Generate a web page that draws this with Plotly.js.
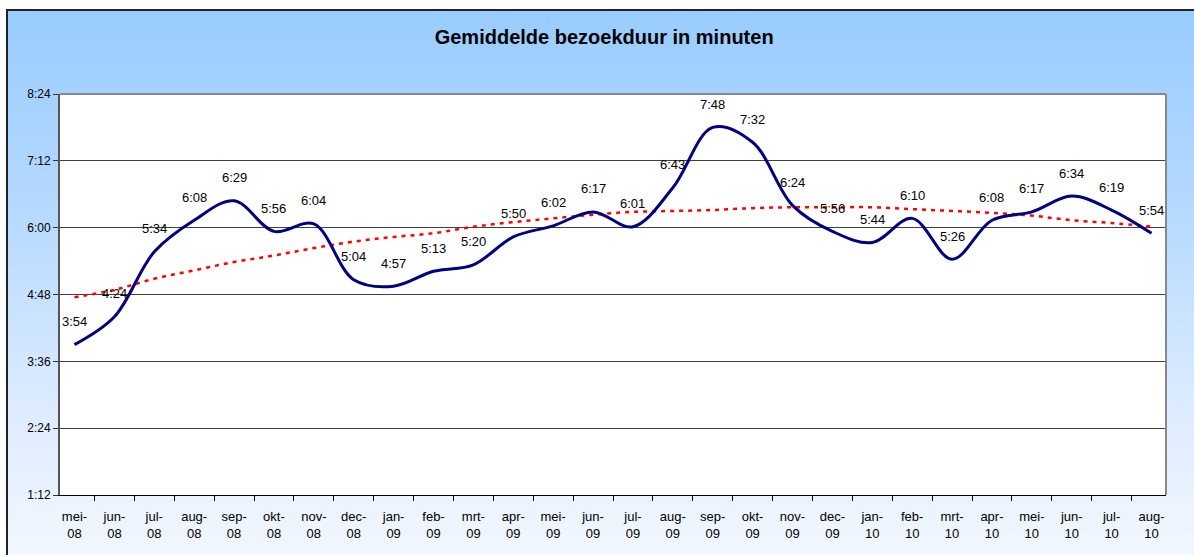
<!DOCTYPE html>
<html>
<head>
<meta charset="utf-8">
<script src="https://cdn.plot.ly/plotly-3.0.1.min.js"></script>
<style>
  html, body { margin: 0; padding: 0; width: 1194px; height: 555px; overflow: hidden; background: #ffffff; }
  #frame {
    position: absolute; left: 6px; top: 9px; width: 1200px; height: 560px;
    border-top: 2px solid #222; border-left: 2px solid #222;
    background: linear-gradient(to bottom, #99CCFF 0%, #B5D9FF 35%, #DCEBFF 70%, #F4F9FF 100%);
  }
  #chart { position: absolute; left: 0; top: 0; width: 1194px; height: 555px; }
</style>
</head>
<body>
<div id="frame"></div>
<div id="chart"></div>
<script>
// Categories (month-year)
const months = ["mei-<br>08","jun-<br>08","jul-<br>08","aug-<br>08","sep-<br>08","okt-<br>08","nov-<br>08","dec-<br>08",
                "jan-<br>09","feb-<br>09","mrt-<br>09","apr-<br>09","mei-<br>09","jun-<br>09","jul-<br>09","aug-<br>09",
                "sep-<br>09","okt-<br>09","nov-<br>09","dec-<br>09","jan-<br>10","feb-<br>10","mrt-<br>10","apr-<br>10",
                "mei-<br>10","jun-<br>10","jul-<br>10","aug-<br>10"];
// Average visit duration (m:ss)
const durationLabels = ["3:54","4:24","5:34","6:08","6:29","5:56","6:04","5:04",
                        "4:57","5:13","5:20","5:50","6:02","6:17","6:01","6:43",
                        "7:48","7:32","6:24","5:56","5:44","6:10","5:26","6:08",
                        "6:17","6:34","6:19","5:54"];
// Trend line (seconds)
const trendSeconds = [285,293,305,314,323,330,338,345,350,354,361,366,370,374,377,378,
                      379,381,382,382,382,380,378,376,373,368,365,361];
// Y axis ticks (seconds) and their labels
const yTickVals = [72,144,216,288,360,432,504];
const yTickText = ["1:12","2:24","3:36","4:48","6:00","7:12","8:24"];

function toSec(s){ const p = s.split(":"); return (+p[0])*60 + (+p[1]); }
const durationSeconds = durationLabels.map(toSec);

const font = "Arial, 'Liberation Sans', sans-serif";

const traces = [
  {
    x: months, y: trendSeconds, type: "scatter", mode: "lines",
    line: { color: "#FF0000", width: 2.5, dash: "4px,5px", shape: "spline", smoothing: 1 },
    hoverinfo: "skip"
  },
  {
    x: months, y: durationSeconds, type: "scatter", mode: "lines",
    line: { color: "#000080", width: 3, shape: "spline", smoothing: 1 },
    hoverinfo: "skip"
  }
];

const annotations = months.map((m, i) => ({
  x: m, y: durationSeconds[i], xref: "x", yref: "y",
  text: durationLabels[i], showarrow: false, yshift: 23,
  font: { family: font, size: 13, color: "#000" }
}));

const layout = {
  width: 1194, height: 555,
  margin: { l: 60, r: 28, t: 94, b: 60 },
  paper_bgcolor: "rgba(0,0,0,0)",
  plot_bgcolor: "#ffffff",
  showlegend: false,
  title: {
    text: "<b>Gemiddelde bezoekduur in minuten</b>",
    font: { family: font, size: 20, color: "#000" },
    x: 0.506, xref: "container", xanchor: "center",
    y: 0.933, yref: "container", yanchor: "middle"
  },
  xaxis: {
    type: "category",
    tickson: "boundaries",
    ticks: "outside", ticklen: 5, tickcolor: "#000", tickwidth: 1,
    ticklabelstandoff: 9,
    showgrid: false,
    showline: true, linecolor: "#000", linewidth: 1,
    mirror: false,
    tickfont: { family: font, size: 13, color: "#000" },
    tickangle: 0,
    zeroline: false
  },
  yaxis: {
    range: [72, 504],
    tickvals: yTickVals, ticktext: yTickText,
    ticks: "outside", ticklen: 5, tickcolor: "#333", tickwidth: 1,
    showgrid: true, gridcolor: "#404040", gridwidth: 1,
    showline: true, linecolor: "#555", linewidth: 2,
    tickfont: { family: font, size: 12, color: "#000" },
    zeroline: false
  },
  shapes: [
    { type: "line", xref: "paper", yref: "paper", x0: 1, x1: 1, y0: 0, y1: 1,
      line: { color: "#888", width: 2 } },
    { type: "line", xref: "paper", yref: "paper", x0: 0, x1: 1, y0: 1, y1: 1,
      line: { color: "#888", width: 2 } }
  ],
  annotations: annotations
};

Plotly.newPlot("chart", traces, layout, { staticPlot: true, displayModeBar: false });
</script>
</body>
</html>
